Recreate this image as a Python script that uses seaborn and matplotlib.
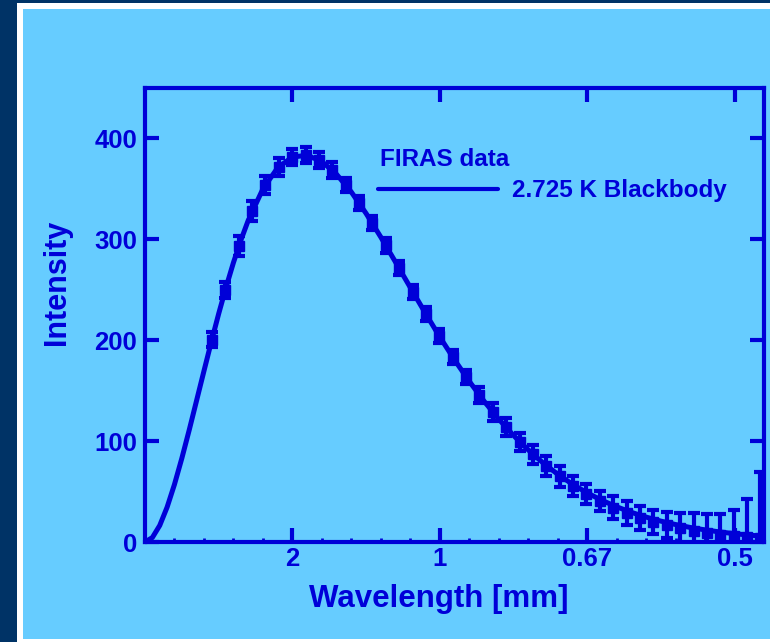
import matplotlib
matplotlib.use("Agg")
import matplotlib.pyplot as plt
from matplotlib.patches import Rectangle
from matplotlib.lines import Line2D
import seaborn as sns

# FIRAS monopole spectrum: frequency [1/cm], intensity [MJy/sr], plotted error half-length
firas_freq = [2.27, 2.72, 3.18, 3.63, 4.08, 4.54, 4.99, 5.45, 5.90, 6.35,
              6.81, 7.26, 7.71, 8.17, 8.62, 9.08, 9.53, 9.98, 10.44, 10.89,
              11.34, 11.80, 12.25, 12.71, 13.16, 13.61, 14.07, 14.52, 14.97, 15.43,
              15.88, 16.34, 16.79, 17.24, 17.70, 18.15, 18.61, 19.06, 19.51, 19.97,
              20.42, 20.87]
firas_int = [200.7, 249.5, 293.0, 327.8, 354.1, 372.1, 381.5, 383.5, 378.9, 368.8,
             354.1, 336.3, 316.1, 293.9, 271.4, 248.2, 225.9, 204.3, 183.3, 163.8,
             145.8, 128.8, 113.6, 99.5, 86.8, 75.5, 65.0, 55.9, 47.7, 40.5,
             34.1, 28.6, 24.0, 20.0, 16.5, 13.6, 11.3, 9.1, 7.3, 5.9,
             4.7, 3.6]
firas_err = [7, 8, 10, 10, 9, 9, 8, 8, 8, 8,
             7, 7, 7, 7, 7, 7, 7, 7, 7, 7,
             8, 9, 9, 9, 9, 10, 10, 10, 10, 10,
             11, 12, 12, 12, 13, 15, 17, 19, 20, 26,
             38, 66]

# 2.725 K blackbody curve
bb_freq = [0.0, 0.25, 0.5, 0.75, 1.0, 1.25, 1.5, 1.75, 2.0, 2.25, 2.5, 2.75, 3.0,
           3.25, 3.5, 4.0, 4.5, 5.0, 5.5, 6.0, 6.5,
           7.0, 7.5, 8.0, 8.5, 9.0, 9.5, 10.0, 10.5, 11.0, 11.5, 12.0, 12.5, 13.0,
           13.5, 14.0, 14.5, 15.0, 15.5, 16.0, 16.5, 17.0, 17.5, 18.0, 18.5, 19.0,
           19.5, 20.0, 20.5, 21.0]
bb_int = [0.0, 4.4, 16.4, 34.5, 57.1, 83.0, 111.0, 140.2, 169.5, 198.4, 226.3,
          252.5, 276.9, 298.9, 318.6, 350.0, 370.9, 381.6,
          383.3, 377.1, 364.4, 346.9, 325.7, 302.2, 277.4, 252.3, 227.4, 203.3,
          180.6, 159.3, 139.7, 121.8, 105.7, 91.3, 78.5, 67.2, 57.3, 48.7, 41.3,
          34.9, 29.4, 24.7, 20.7, 17.3, 14.4, 12.0, 9.95, 8.24, 6.82, 5.63]

# Wavelength labels placed at their frequencies
tick_freq = [5, 10, 15, 20]
tick_labels = ["2", "1", "0.67", "0.5"]
y_ticks = [0, 100, 200, 300, 400]

INK = "#0000D8"
PANEL = "#66CCFF"
NAVY = "#003366"

sns.set_theme(style="ticks")
plt.rcParams["font.family"] = ["Liberation Sans", "DejaVu Sans"]
plt.rcParams["font.weight"] = "bold"

fig = plt.figure(figsize=(7.7, 6.42), dpi=100, facecolor=NAVY)
W, H = 770, 642
fig.patches.append(Rectangle((17 / W, 0), 1.0, 1 - 3 / H, transform=fig.transFigure,
                             facecolor="white", edgecolor="none", zorder=-2))
fig.patches.append(Rectangle((23 / W, 3 / H), 1.0, 1 - 12 / H, transform=fig.transFigure,
                             facecolor=PANEL, edgecolor="none", zorder=-1))

ax = fig.add_axes([145 / W, 1 - 542 / H, (764 - 145) / W, (542 - 88) / H])
ax.set_facecolor(PANEL)

sns.lineplot(x=bb_freq, y=bb_int, ax=ax, color=INK, linewidth=3.6, sort=False,
             zorder=3)
ax.errorbar(firas_freq, firas_int, yerr=firas_err, fmt="s", color=INK, ms=7.5,
            mec=INK, mfc=INK, elinewidth=3.0, capsize=4.5, capthick=3.0,
            zorder=4)

ax.set_xlim(0, 21)
ax.set_ylim(0, 450)

for s in ax.spines.values():
    s.set_color(INK)
    s.set_linewidth(3.0)

ax.set_xticks(tick_freq)
ax.set_xticklabels(tick_labels)
ax.set_xticks(range(1, 21), minor=True)
ax.set_yticks(y_ticks)
ax.tick_params(which="major", direction="in", length=10, width=3, color=INK,
               top=True, right=True, labelsize=18.5, labelcolor=INK)
ax.tick_params(axis="x", which="major", pad=3.5)
ax.tick_params(axis="y", which="major", pad=5.5)
ax.tick_params(axis="x", which="minor", direction="in", length=3, width=2,
               color=INK, top=False, bottom=True)
for lab in ax.get_xticklabels() + ax.get_yticklabels():
    lab.set_fontweight("bold")

ax.set_xlabel("Wavelength [mm]", fontsize=22.5, fontweight="bold", color=INK,
              va="center")
ax.xaxis.set_label_coords(0.475, -0.125)
ax.set_ylabel("Intensity", fontsize=22, fontweight="bold", color=INK,
              va="center", ha="center")
ax.yaxis.set_label_coords(-(145 - 57) / 619, 0.5725)

# Key
ax.text(0.380, 0.8286, "FIRAS data", transform=ax.transAxes, fontsize=17.5,
        fontweight="bold", color=INK, va="baseline", ha="left")
ax.add_line(Line2D([0.376, 0.570], [0.778, 0.778], transform=ax.transAxes,
                   color=INK, linewidth=3.0))
ax.text(0.593, 0.759, "2.725 K Blackbody", transform=ax.transAxes, fontsize=17.5,
        fontweight="bold", color=INK, va="baseline", ha="left")

fig.savefig("out.png", dpi=100, facecolor=NAVY)
